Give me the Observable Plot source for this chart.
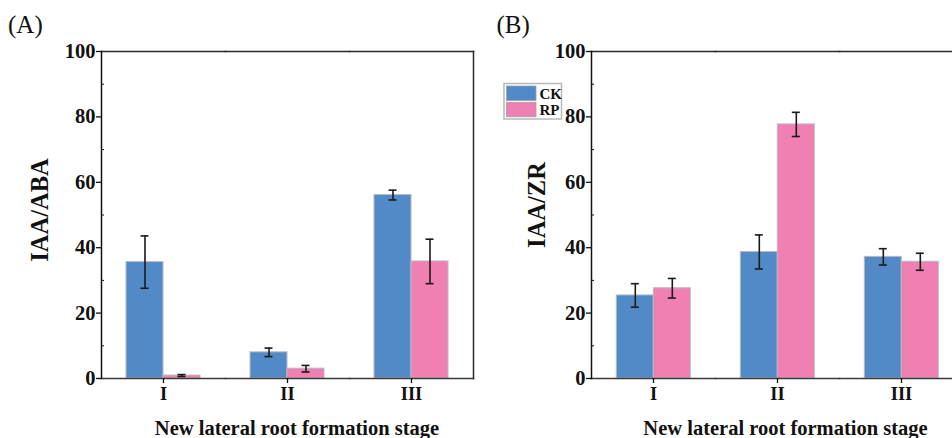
<!DOCTYPE html>
<html>
<head>
<meta charset="utf-8">
<script src="https://cdn.jsdelivr.net/npm/d3@7"></script>
<script src="https://cdn.jsdelivr.net/npm/@observablehq/plot@0.6"></script>
<style>
  html, body { margin: 0; padding: 0; background: #fff; }
  html { overflow: hidden; }
  body { width: 952px; height: 438px; overflow: hidden; position: relative; }
  .panel { position: absolute; top: 0; width: 500px; height: 438px; }
  .panel svg { max-width: none !important; }
  #overlay { position: absolute; left: 0; top: 0; pointer-events: none; }
</style>
</head>
<body>
<div id="pA" class="panel" style="left:0px"></div>
<div id="pB" class="panel" style="left:480px"></div>
<script>
// ---- data ----
const stages = ["I", "II", "III"];
const groups = ["CK", "RP"];
const groupColors = ["#5289c7", "#ef80b1"];

const abaCK = [35.6, 8.0, 56.1];
const abaCKerr = [8.0, 1.3, 1.5];
const abaRP = [0.9, 3.0, 35.8];
const abaRPerr = [0.3, 1.0, 6.8];

const zrCK = [25.4, 38.7, 37.2];
const zrCKerr = [3.6, 5.2, 2.5];
const zrRP = [27.6, 77.7, 35.7];
const zrRPerr = [3.0, 3.7, 2.6];

const yTicks = [0, 20, 40, 60, 80, 100];
const yMinor = [10, 30, 50, 70, 90];

const panels = [
  {id: "pA", tag: "(A)", ylabel: "IAA/ABA", ck: abaCK, ckE: abaCKerr, rp: abaRP, rpE: abaRPerr},
  {id: "pB", tag: "(B)", ylabel: "IAA/ZR", ck: zrCK, ckE: zrCKerr, rp: zrRP, rpE: zrRPerr}
];

function rowsFor(p) {
  const rows = [];
  stages.forEach((s, i) => {
    rows.push({stage: s, group: groups[0], value: p.ck[i], err: p.ckE[i]});
    rows.push({stage: s, group: groups[1], value: p.rp[i], err: p.rpE[i]});
  });
  return rows;
}

const FONT = "'Liberation Serif', 'Times New Roman', serif";

function makePanel(p, opts) {
  const rows = rowsFor(p);
  const lo = d => d.value - d.err;
  const hi = d => d.value + d.err;
  const marks = [
    Plot.barY(rows, {fx: "stage", x: "group", y: "value", fill: "group", stroke: "#b9b9c2", strokeWidth: 1}),
    Plot.ruleX(rows, {fx: "stage", x: "group", y1: lo, y2: hi, stroke: "#1a1a1a", strokeWidth: 1.6}),
    Plot.tickY(rows, {fx: "stage", x: "group", y: lo, stroke: "#1a1a1a", strokeWidth: 1.6, insetLeft: 14.5, insetRight: 14.5}),
    Plot.tickY(rows, {fx: "stage", x: "group", y: hi, stroke: "#1a1a1a", strokeWidth: 1.6, insetLeft: 14.5, insetRight: 14.5}),
    Plot.frame({anchor: "top", stroke: "#2a2a2a", strokeWidth: 1.5}),
    Plot.frame({anchor: "bottom", stroke: "#3a3a3a", strokeWidth: 1.5}),
    Plot.frame({anchor: "left", facetAnchor: "left", stroke: "#111", strokeWidth: 1.5}),
    Plot.axisY({ticks: yTicks, tickSize: 5, tickPadding: 1, fontSize: 20.5, fontWeight: "bold", label: null, strokeWidth: 1.3}),
    Plot.axisY({ticks: yMinor, tickSize: -3, tickFormat: () => "", label: null, strokeWidth: 1}),
    Plot.axisFx({anchor: "bottom", tickSize: 5, tickPadding: 3, fontSize: 18.5, fontWeight: "bold", label: null, strokeWidth: 1.3})
  ];
  if (opts.rightFrame) marks.push(Plot.frame({anchor: "right", facetAnchor: "right", stroke: "#2a2a2a", strokeWidth: 1.5}));
  return Plot.plot({
    width: opts.width,
    height: 438,
    marginLeft: opts.marginLeft,
    marginRight: opts.marginRight,
    marginTop: 51,
    marginBottom: 60,
    style: {fontFamily: FONT, fontWeight: "bold", color: "#111", background: "transparent", overflow: "visible"},
    fx: {domain: stages, padding: 0, label: null, axis: null},
    x: {domain: groups, paddingInner: 0, paddingOuter: 0.667, axis: null},
    y: {domain: [0, 100], axis: null},
    color: {domain: groups, range: groupColors},
    marks
  });
}

document.getElementById("pA").append(makePanel(panels[0], {width: 480, marginLeft: 100, marginRight: 7, rightFrame: true}));
document.getElementById("pB").append(makePanel(panels[1], {width: 491, marginLeft: 110.7, marginRight: 7, rightFrame: false}));

// ---- overlay texts & legend ----
const ov = d3.select("body").append("svg")
  .attr("id", "overlay").attr("width", 952).attr("height", 438)
  .style("font-family", FONT);

const labelPos = [
  {tagX: 8, yx: 39, yy: 210, xx: 297},
  {tagX: 496.5, yx: 536, yy: 205, xx: 785.5}
];
panels.forEach((p, i) => {
  const L = labelPos[i];
  ov.append("text").attr("x", L.tagX).attr("y", 33).attr("font-size", 25).attr("fill", "#111").text(p.tag);
  ov.append("text").attr("transform", `translate(${L.yx},${L.yy}) rotate(-90)`)
    .attr("text-anchor", "middle").attr("dominant-baseline", "central")
    .attr("font-size", 24.5).attr("font-weight", "bold").attr("fill", "#111").text(p.ylabel);
  ov.append("text").attr("x", L.xx).attr("y", 435).attr("text-anchor", "middle")
    .attr("font-size", 20.5).attr("font-weight", "bold").attr("fill", "#111")
    .text("New lateral root formation stage");
});

// legend (panel B)
const lg = ov.append("g");
lg.append("rect").attr("x", 504).attr("y", 83.5).attr("width", 57.5).attr("height", 35.5)
  .attr("fill", "#fff").attr("stroke", "#b8b8b8").attr("stroke-width", 1.5);
groups.forEach((g, i) => {
  lg.append("rect").attr("x", 506.5).attr("y", 86 + i * 16.3).attr("width", 29.5).attr("height", 14.5)
    .attr("fill", groupColors[i]).attr("stroke", "#a0a0a8").attr("stroke-width", 0.8);
  lg.append("text").attr("x", 539.5).attr("y", 99 + i * 15.8).attr("font-size", 15)
    .attr("font-weight", "bold").attr("fill", "#111").text(g);
});
</script>
</body>
</html>
